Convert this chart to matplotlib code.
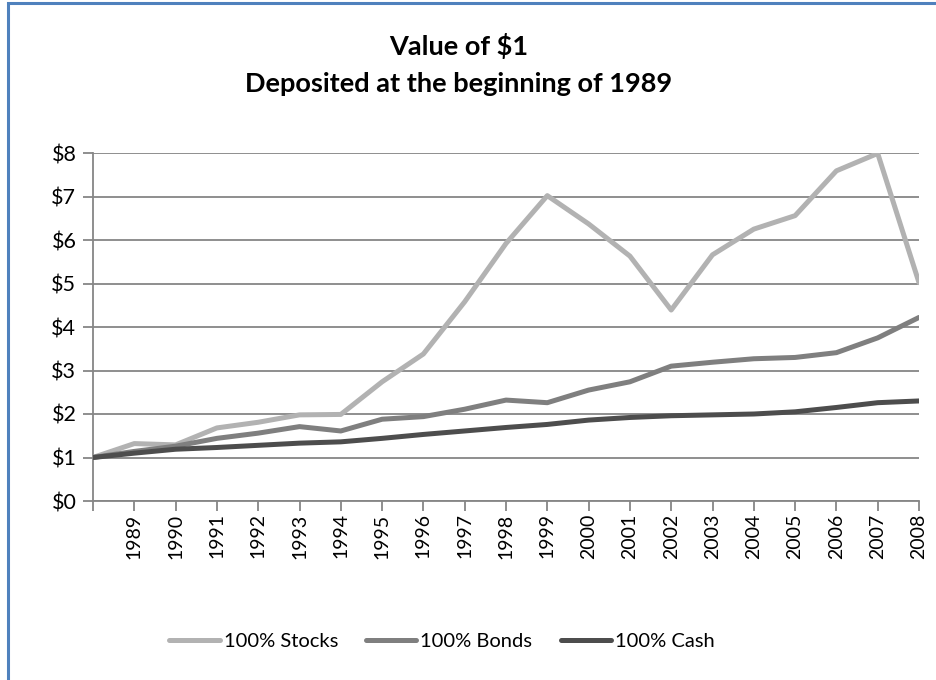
import matplotlib
import matplotlib.pyplot as plt
from matplotlib.patches import Rectangle
matplotlib.use('Agg')

plt.rcParams['font.family'] = ['Lato', 'DejaVu Sans']

# data: start value, then year-end values 1989..2008
years = [str(y) for y in range(1989, 2009)]
stocks = [1.00, 1.32, 1.29, 1.68, 1.81, 1.98, 1.99, 2.74, 3.38, 4.58, 5.92,
          7.02, 6.37, 5.63, 4.39, 5.66, 6.25, 6.56, 7.59, 7.99, 5.02]
bonds = [1.00, 1.14, 1.26, 1.44, 1.56, 1.71, 1.61, 1.88, 1.94, 2.11, 2.32,
         2.26, 2.55, 2.74, 3.10, 3.19, 3.27, 3.30, 3.41, 3.75, 4.22]
cash = [1.00, 1.10, 1.19, 1.23, 1.28, 1.33, 1.36, 1.44, 1.53, 1.61, 1.69,
        1.76, 1.86, 1.92, 1.96, 1.98, 2.00, 2.05, 2.15, 2.26, 2.30]
series_names = ['100% Stocks', '100% Bonds', '100% Cash']
y_ticks = [0, 1, 2, 3, 4, 5, 6, 7, 8]

W, H = 937, 680
fig = plt.figure(figsize=(W / 100, H / 100), dpi=100)

# blue chart border (top and left visible)
fig.patches.append(Rectangle((8.5 / W, -0.1), 1.2, 1 - 3.5 / H + 0.1,
                             transform=fig.transFigure, fill=False,
                             edgecolor='#4f81bd', linewidth=2.2))

ax = fig.add_axes([93 / W, (H - 501) / H, (919 - 93) / W, (501 - 153) / H])

grid_color = '#868686'
x = list(range(len(stocks)))
ax.plot(x, stocks, color='#b2b2b2', linewidth=3.6, label=series_names[0],
        solid_capstyle='round', zorder=3)
ax.plot(x, bonds, color='#7f7f7f', linewidth=3.6, label=series_names[1],
        solid_capstyle='round', zorder=3)
ax.plot(x, cash, color='#4d4d4d', linewidth=3.6, label=series_names[2],
        solid_capstyle='round', zorder=3)

ax.set_xlim(0, len(stocks) - 1)
ax.set_ylim(0, 8)
ax.set_yticks(y_ticks)
ax.set_yticklabels([f'${v}' for v in y_ticks])
ax.set_xticks(x)
ax.set_xticklabels([''] + years, rotation=90)
ax.yaxis.grid(True, color=grid_color, linewidth=1.3)
ax.set_axisbelow(True)

for side in ['top', 'right']:
    ax.spines[side].set_visible(False)
for side in ['left', 'bottom']:
    ax.spines[side].set_color(grid_color)
    ax.spines[side].set_linewidth(1.3)
ax.tick_params(axis='both', colors=grid_color, labelcolor='black',
               width=1.3, length=7)
ax.tick_params(axis='y', pad=5, labelsize=15.5)
ax.tick_params(axis='x', pad=2, labelsize=14)

# two-line title
fig.text(459 / W, 1 - 46 / H, 'Value of $1', ha='center', va='center',
         fontsize=19.5, fontweight='bold')
fig.text(459 / W, 1 - 84 / H, 'Deposited at the beginning of 1989',
         ha='center', va='center', fontsize=19.5, fontweight='bold')

fig.legend(loc='center', bbox_to_anchor=(442 / W, 1 - 641 / H), ncol=3,
           frameon=False, fontsize=14.5, handlelength=2.5, handletextpad=0.2,
           columnspacing=1.4)

fig.savefig('out.png', dpi=100)
